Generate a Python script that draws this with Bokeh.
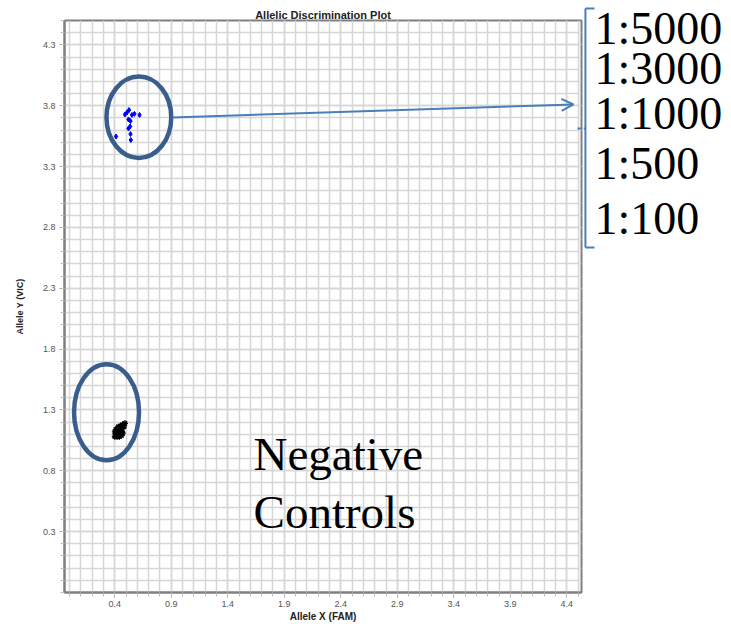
from bokeh.plotting import figure
from bokeh.layouts import row
from bokeh.models import Range1d, FixedTicker, Label, Arrow, OpenHead, PrintfTickFormatter
from bokeh.embed import file_html
from bokeh.resources import INLINE
import numpy as np

# ---- data ----
sample_x = [0.526, 0.508, 0.490, 0.552, 0.574, 0.619, 0.521, 0.539, 0.535, 0.521, 0.539, 0.411, 0.542]
sample_y = [3.765, 3.744, 3.728, 3.724, 3.733, 3.724, 3.687, 3.674, 3.629, 3.613, 3.567, 3.547, 3.518]

neg_x = [0.40, 0.42, 0.44, 0.46, 0.41, 0.43, 0.45, 0.47, 0.40, 0.42, 0.44, 0.46, 0.41, 0.43, 0.45, 0.48, 0.43, 0.45, 0.47, 0.49]
neg_y = [1.08, 1.08, 1.08, 1.09, 1.10, 1.10, 1.11, 1.11, 1.12, 1.12, 1.13, 1.13, 1.14, 1.14, 1.15, 1.16, 1.16, 1.17, 1.18, 1.19]

x_ticks = [0.4, 0.9, 1.4, 1.9, 2.4, 2.9, 3.4, 3.9, 4.4]
y_ticks = [0.3, 0.8, 1.3, 1.8, 2.3, 2.8, 3.3, 3.8, 4.3]

dilutions = ["1:5000", "1:3000", "1:1000", "1:500", "1:100"]

# highlight ellipses (centre / size in data units)
ring_x = [0.613, 0.327]
ring_y = [3.705, 1.281]
ring_w = [0.573, 0.575]
ring_h = [0.668, 0.789]

X0, X1 = -0.045, 4.53
Y0, Y1 = -0.2, 4.5
PX_X = 113.0           # pixels per x unit
PX_Y = 572 / 4.7       # pixels per y unit

W_MAIN, H = 583, 624
p = figure(width=W_MAIN, height=H, x_range=Range1d(X0, X1), y_range=Range1d(Y0, Y1),
           output_backend="svg", toolbar_location=None,
           title="Allelic Discrimination Plot",
           min_border_left=64, min_border_right=2, min_border_top=20, min_border_bottom=32)
p.frame_align = False
p.background_fill_color = "white"
p.border_fill_color = "white"
p.outline_line_color = "#7F7F7F"
p.outline_line_width = 2

p.title.align = "center"
p.title.offset = -10
p.title.standoff = 0
p.title.text_font = "Liberation Sans"
p.title.text_font_style = "bold"
p.title.text_font_size = "11px"
p.title.text_color = "#222222"

x_minor = [round(v, 1) for v in np.arange(0.0, 4.55, 0.1)]
y_minor = [round(v, 1) for v in np.arange(-0.2, 4.55, 0.1)]
xt = FixedTicker(ticks=x_ticks, minor_ticks=x_minor)
yt = FixedTicker(ticks=y_ticks, minor_ticks=y_minor)
p.xaxis.ticker = xt
p.yaxis.ticker = yt
p.xgrid.ticker = xt
p.ygrid.ticker = yt

for g in (p.xgrid, p.ygrid):
    g.grid_line_color = "#D6D6D6"
    g.grid_line_width = 1.5
    g.minor_grid_line_color = "#D6D6D6"
    g.minor_grid_line_width = 1.5

for ax in (p.xaxis, p.yaxis):
    ax.formatter = PrintfTickFormatter(format="%.1f")
    ax.axis_line_color = "#7F7F7F"
    ax.axis_line_width = 2
    ax.major_tick_line_color = "#9A9A9A"
    ax.minor_tick_line_color = "#BBBBBB"
    ax.major_tick_out = 5
    ax.major_tick_in = 0
    ax.minor_tick_out = 4
    ax.minor_tick_in = 0
    ax.major_label_text_font = "Liberation Sans"
    ax.major_label_text_font_size = "9px"
    ax.major_label_text_color = "#555555"
    ax.major_label_standoff = 4
    ax.axis_label_text_font = "Liberation Sans"
    ax.axis_label_text_font_style = "bold"
    ax.axis_label_text_color = "#222222"

p.yaxis.axis_label = "Allele Y (VIC)"
p.yaxis.axis_label_text_font_size = "9px"
p.yaxis.axis_label_standoff = 15

p.xaxis.axis_label = "Allele X (FAM)"
p.xaxis.axis_label_text_font_size = "10px"
p.xaxis.major_label_standoff = 3
p.xaxis.axis_label_standoff = 1

# data
p.scatter(sample_x, sample_y, marker="diamond", size=5, color="#0000FF")
p.scatter(neg_x, neg_y, marker="asterisk", size=6, line_color="black", line_width=1.4)

# rings
p.ellipse(x=ring_x, y=ring_y, width=ring_w, height=ring_h, fill_color=None,
          line_color="#3A5E8C", line_width=4.5)

# arrow from the sample cluster to the dilution list
p.add_layout(Arrow(x_start=0.911, y_start=3.703, x_end=4.459, y_end=3.81,
                   line_color="#4A7EBB", line_width=2,
                   end=OpenHead(size=12, line_color="#4A7EBB", line_width=2)))

bc = "#4A7EBB"
bx, btop, bbot, bmid = 4.565, 4.599, 2.635, 3.613
# part of the bracket's middle tick that lies inside the plot frame
p.segment(x0=[4.495], y0=[bmid], x1=[X1], y1=[bmid], line_color=bc, line_width=2)

for t, yy in zip(["Negative", "Controls"], [0.94, 0.465]):
    p.add_layout(Label(x=1.628, y=yy, text=t, text_font="Liberation Serif", text_font_size="47px",
                       text_color="black", text_baseline="alphabetic"))

# ---- right-hand panel for the dilution list ----
W_RIGHT = 731 - W_MAIN
rx0 = X0 + (W_MAIN - 64) / PX_X
ry1 = Y1 + 20 / PX_Y
p2 = figure(width=W_RIGHT, height=H,
            x_range=Range1d(rx0, rx0 + W_RIGHT / PX_X),
            y_range=Range1d(ry1 - H / PX_Y, ry1),
            x_axis_type=None, y_axis_type=None,
            output_backend="svg", toolbar_location=None,
            min_border_left=0, min_border_right=0, min_border_top=0, min_border_bottom=0)
p2.frame_align = False
p2.outline_line_color = None
p2.background_fill_color = "white"
p2.border_fill_color = "white"

p2.segment(x0=[bx, bx, bx, rx0], y0=[btop, btop, bbot, bmid],
           x1=[bx, 4.645, 4.645, bx], y1=[bbot, btop, bbot, bmid],
           line_color=bc, line_width=2)

label_y = [4.434, 4.105, 3.736, 3.325, 2.873]
for t, yy in zip(dilutions, label_y):
    p2.add_layout(Label(x=4.645, y=yy, text=t, text_font="Liberation Serif", text_font_size="46px",
                        text_color="black", text_baseline="alphabetic"))

layout = row(p, p2)
open("out.html", "w").write(file_html(layout, INLINE))
